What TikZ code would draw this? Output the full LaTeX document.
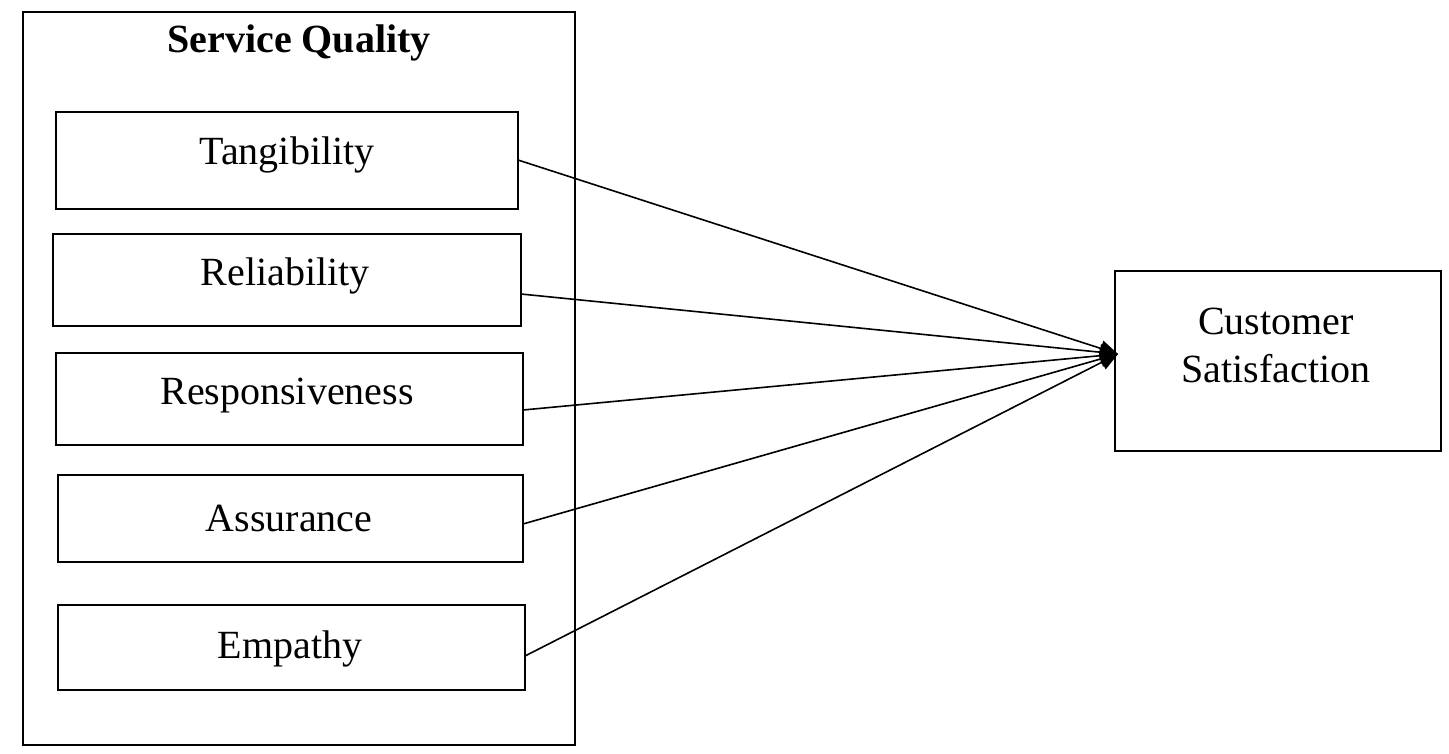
\documentclass[tikz,border=0pt]{standalone}
\usepackage{fontspec}
\setmainfont{Liberation Serif}
\usetikzlibrary{arrows.meta}
\begin{document}
\begin{tikzpicture}[x=1pt,y=-1pt,
  box/.style={draw,line width=1.6pt},
  lbl/.style={font=\fontsize{40}{48}\selectfont,align=center},
  conn/.style={line width=1.6pt,-{Triangle[length=18pt,width=16pt]}}]
\useasboundingbox (0,0) rectangle (1449,753);
\draw[box] (23,12) rectangle (575,745);
\node[lbl,font=\fontsize{40}{48}\selectfont\bfseries] (title) at (299,43) {Service Quality};
\draw[box] (56,112) rectangle (518,209); \node[lbl] (t) at (287,155) {Tangibility};
\draw[box] (53,234) rectangle (521,326); \node[lbl] (r) at (285,276) {Reliability};
\draw[box] (56,353) rectangle (523,445); \node[lbl] (re) at (287,396) {Responsiveness};
\draw[box] (58,475) rectangle (523,562); \node[lbl] (a) at (289,518) {Assurance};
\draw[box] (58,605) rectangle (525,690); \node[lbl] (e) at (290,649) {Empathy};
\draw[box] (1115,271) rectangle (1441,451);
\node[lbl] (cs) at (1276,345) {Customer\\Satisfaction};
\coordinate (tip) at (1118,354);
\coordinate (p1) at (518,160);
\coordinate (p2) at (521,294);
\coordinate (p3) at (523,410);
\coordinate (p4) at (523,524);
\coordinate (p5) at (525,656);
\foreach \p in {p1,p2,p3,p4,p5} \draw[conn] (\p) -- (tip);
\end{tikzpicture}
\end{document}
